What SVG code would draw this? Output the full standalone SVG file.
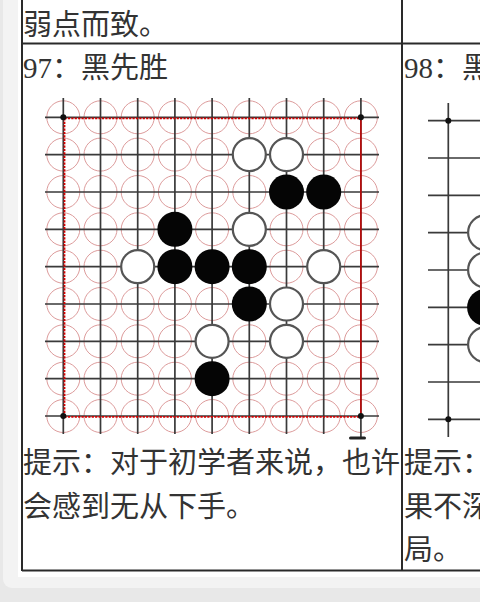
<svg xmlns="http://www.w3.org/2000/svg" xmlns:xlink="http://www.w3.org/1999/xlink" width="480" height="602" viewBox="0 0 480 602">
<style>
.t{font-family:"Liberation Serif","Noto Sans CJK SC",serif;font-size:29px;fill:#333}
.tb{stroke:#2a2a2a;stroke-width:2;fill:none}
.gl{stroke:#3a3a3a;stroke-width:1.7;fill:none}
.rc{fill:none;stroke:#d89090;stroke-width:0.9}
.bk{fill:#050505}
.wh{fill:#fff;stroke:#555;stroke-width:2.2}
.cd{fill:#111}
</style>
<defs>
<g id="rowc">
<circle class="rc" cx="63.3" cy="0" r="16.5"/><circle class="rc" cx="100.5" cy="0" r="16.5"/><circle class="rc" cx="137.7" cy="0" r="16.5"/><circle class="rc" cx="174.9" cy="0" r="16.5"/><circle class="rc" cx="212.1" cy="0" r="16.5"/><circle class="rc" cx="249.3" cy="0" r="16.5"/><circle class="rc" cx="286.5" cy="0" r="16.5"/><circle class="rc" cx="323.7" cy="0" r="16.5"/><circle class="rc" cx="360.9" cy="0" r="16.5"/>
</g>
</defs>
<rect x="0" y="0" width="480" height="602" fill="#e8e8e8"/>
<rect x="3" y="-20" width="500" height="608" rx="9" fill="#f3f3f3"/>
<rect x="18" y="0" width="462" height="577" fill="#fff"/>

<g id="table">
<path class="tb" d="M22,0V571M402,0V571M22,43.5H480M22,570.5H480"/>
</g>

<g id="texts">
<text class="t" x="23" y="35">弱点而致。</text>
<text class="t" x="23" y="78">97：黑先胜</text>
<text class="t" x="404" y="78">98：黑</text>
<text class="t" x="23" y="473">提示：对于初学者来说，也许</text>
<text class="t" x="23" y="517">会感到无从下手。</text>
<text class="t" x="404" y="473">提示：</text>
<text class="t" x="404" y="517">果不深</text>
<text class="t" x="404" y="560">局。</text>
</g>

<g id="board97">
<use xlink:href="#rowc" y="117.3"/><use xlink:href="#rowc" y="154.6"/><use xlink:href="#rowc" y="192"/><use xlink:href="#rowc" y="229.3"/><use xlink:href="#rowc" y="266.7"/><use xlink:href="#rowc" y="304"/><use xlink:href="#rowc" y="341.3"/><use xlink:href="#rowc" y="378.7"/><use xlink:href="#rowc" y="416"/>
<path class="gl" d="M63.3,98V434M100.5,98V434M137.7,98V434M174.9,98V434M212.1,98V434M249.3,98V434M286.5,98V434M323.7,98V434M360.9,98V437M45,117.3H379M45,154.6H379M45,192H379M45,229.3H379M45,266.7H379M45,304H379M45,341.3H379M45,378.7H379M45,416H379"/>
<path d="M64.5,118.3H360.9M64.5,118.3V416.8M64.5,416.8H360.9" fill="none" stroke="#d40000" stroke-width="1.8" stroke-dasharray="2.2,1.2"/>
<path d="M360.9,117.3V416" fill="none" stroke="#d40000" stroke-width="1.4"/>
<circle class="cd" cx="63.3" cy="117.3" r="3"/><circle class="cd" cx="360.9" cy="117.3" r="3"/><circle class="cd" cx="63.3" cy="416" r="3"/><circle class="cd" cx="360.9" cy="416" r="3"/>
<rect x="349" y="436.5" width="17" height="3" rx="1.5" fill="#222"/>
</g>

<g id="stones97">
<circle class="wh" cx="249.3" cy="154.6" r="16.5"/>
<circle class="wh" cx="286.5" cy="154.6" r="16.5"/>
<circle class="bk" cx="286.5" cy="192" r="17.5"/>
<circle class="bk" cx="323.7" cy="192" r="17.5"/>
<circle class="bk" cx="174.9" cy="229.3" r="17.5"/>
<circle class="wh" cx="249.3" cy="229.3" r="16.5"/>
<circle class="wh" cx="137.7" cy="266.7" r="16.5"/>
<circle class="bk" cx="174.9" cy="266.7" r="17.5"/>
<circle class="bk" cx="212.1" cy="266.7" r="17.5"/>
<circle class="bk" cx="249.3" cy="266.7" r="17.5"/>
<circle class="wh" cx="323.7" cy="266.7" r="16.5"/>
<circle class="bk" cx="249.3" cy="304" r="17.5"/>
<circle class="wh" cx="286.5" cy="304" r="16.5"/>
<circle class="wh" cx="212.1" cy="341.3" r="16.5"/>
<circle class="wh" cx="286.5" cy="341.3" r="16.5"/>
<circle class="bk" cx="212.1" cy="378.7" r="17.5"/>
</g>

<g id="board98">
<path class="gl" d="M448.3,103V437M428,120.7H480M428,158H480M428,195.3H480M428,232.6H480M428,270H480M428,307.3H480M428,344.6H480M428,382H480M428,419.3H480"/>
<circle class="cd" cx="448.3" cy="120.7" r="3"/><circle class="cd" cx="448.3" cy="419.3" r="3"/>
<circle class="wh" cx="485.6" cy="232.6" r="17.5"/>
<circle class="wh" cx="485.6" cy="270" r="17.5"/>
<circle class="bk" cx="485.6" cy="307.3" r="18.5"/>
<circle class="wh" cx="485.6" cy="344.6" r="17.5"/>
</g>
</svg>
